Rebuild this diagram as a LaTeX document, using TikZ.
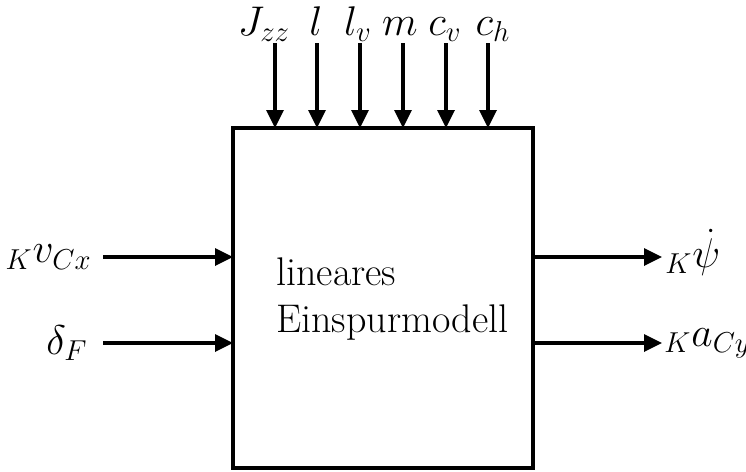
\documentclass[tikz,border=0pt]{standalone}
\usetikzlibrary{arrows.meta}
\begin{document}
\begin{tikzpicture}[x=0.5pt,y=-0.5pt,
  every node/.style={font=\fontsize{20}{23.5}\selectfont},
  sig/.style={line width=1.7pt,-{Triangle[length=9pt,width=8.5pt]}},
  blk/.style={draw,line width=1.7pt}]
\useasboundingbox (0,0) rectangle (746,472);
\draw[blk] (233,128) rectangle (533,468);
\node[align=left,anchor=base west,inner sep=0] (txt) at (276,332) {lineares\\Einspurmodell};
% top inputs
\foreach \n/\x/\lx/\t in {jzz/275/264/J_{zz}, l/317/316/l, lv/360/358/l_v, m/403/400/m, cv/446/445/c_v, ch/488/493/c_h}{
  \node[anchor=base,inner sep=0] (\n) at (\lx,35) {$\t$};
  \coordinate (\n s) at (\x,43);
  \coordinate (\n e) at (\x,128);
  \draw[sig] (\n s) -- (\n e);
}
% left inputs
\node[anchor=east,inner sep=0] (vcx) at (92,257) {${}_K v_{Cx}$};
\node[anchor=east,inner sep=0] (df) at (88,343) {$\delta_F$};
\coordinate (vcxs) at (103,257); \coordinate (vcxe) at (233,257);
\coordinate (dfs) at (103,343); \coordinate (dfe) at (233,343);
\draw[sig] (vcxs) -- (vcxe);
\draw[sig] (dfs) -- (dfe);
% right outputs
\coordinate (psis) at (533,257); \coordinate (psie) at (662,257);
\coordinate (acys) at (533,343); \coordinate (acye) at (662,343);
\draw[sig] (psis) -- (psie);
\draw[sig] (acys) -- (acye);
\node[anchor=west,inner sep=0] (psi) at (665,252) {${}_K\dot\psi$};
\node[anchor=west,inner sep=0] (acy) at (664,343) {${}_K a_{Cy}$};
\end{tikzpicture}
\end{document}
